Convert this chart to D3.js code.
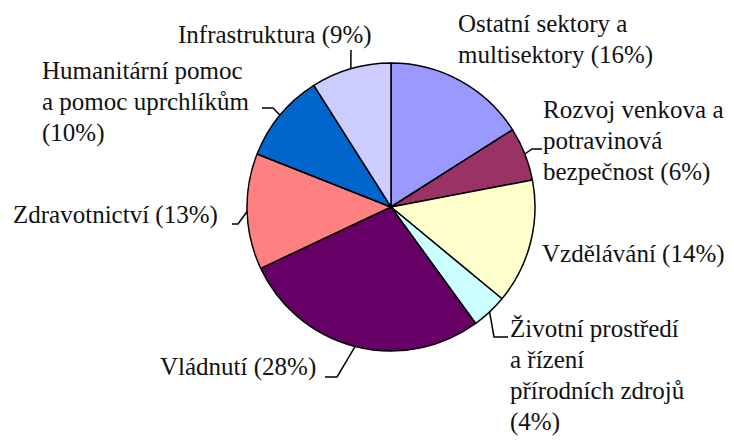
<!DOCTYPE html>
<html>
<head>
<meta charset="utf-8">
<script src="https://cdn.jsdelivr.net/npm/d3@7"></script>
<style>
  body { margin: 0; background: #fff; }
  #chart { position: relative; width: 734px; height: 442px; }
  svg { display: block; }
  .lbl {
    position: absolute;
    font-family: 'Liberation Serif', 'Times New Roman', serif;
    font-size: 25px;
    line-height: 31px;
    white-space: pre;
    color: #111;
  }
</style>
</head>
<body>
<div id="chart"></div>
<script>
// data --------------------------------------------------------------------------------------
const sectors = [
  'Ostatní sektory a multisektory',
  'Rozvoj venkova a potravinová bezpečnost',
  'Vzdělávání',
  'Životní prostředí a řízení přírodních zdrojů',
  'Vládnutí',
  'Zdravotnictví',
  'Humanitární pomoc a pomoc uprchlíkům',
  'Infrastruktura'
];
const shares = [16, 6, 14, 4, 28, 13, 10, 9];
const labelLines = [
  ['Ostatní sektory a', 'multisektory (16%)'],
  ['Rozvoj venkova a', 'potravinová', 'bezpečnost (6%)'],
  ['Vzdělávání (14%)'],
  ['Životní prostředí', 'a řízení', 'přírodních zdrojů', '(4%)'],
  ['Vládnutí (28%)'],
  ['Zdravotnictví (13%)'],
  ['Humanitární pomoc', 'a pomoc uprchlíkům', '(10%)'],
  ['Infrastruktura (9%)']
];
const colors = ['#9999ff', '#993366', '#ffffcc', '#ccffff', '#660066', '#ff8080', '#0066cc', '#ccccff'];

// layout (label left / first baseline, leader elbow / end) ----------------------------------
const labelPos = [
  {x: 458, y: 32},
  {x: 543, y: 118},
  {x: 542, y: 262},
  {x: 510, y: 337},
  {x: 160, y: 375},
  {x: 13, y: 223},
  {x: 42, y: 79},
  {x: 178, y: 43}
];
const leaders = [
  null,
  [[532, 149], [542, 149]],
  null,
  [[494, 337], [508, 337]],
  [[337, 377], [325, 377]],
  [[238, 224], [232, 224]],
  [[273, 108], [262, 108]],
  [[351, 50]]
];

// svg ---------------------------------------------------------------------------------------
const width = 734;
const height = 442;
const cx = 391;
const cy = 207;
const radius = 144;
const baselineOffset = 24; // first baseline from top of a 31px line box at 25px

const chart = d3.select('#chart');
const svg = chart.append('svg')
  .attr('width', width)
  .attr('height', height)
  .attr('viewBox', '0 0 ' + width + ' ' + height);

const pie = d3.pie().sort(null).value(d => d)(shares);
const arc = d3.arc().innerRadius(0).outerRadius(radius);

// slices ------------------------------------------------------------------------------------
svg.append('g')
  .attr('transform', 'translate(' + cx + ',' + cy + ')')
  .selectAll('path')
  .data(pie)
  .enter()
  .append('path')
  .attr('d', arc)
  .attr('fill', (d, i) => colors[i])
  .attr('stroke', '#000')
  .attr('stroke-width', 1.5)
  .attr('stroke-linejoin', 'round');

// leader lines ------------------------------------------------------------------------------
const edgePoint = d => {
  const a = (d.startAngle + d.endAngle) / 2;
  return [cx + radius * Math.sin(a), cy - radius * Math.cos(a)];
};
svg.append('g')
  .selectAll('path')
  .data(pie.filter((d, i) => leaders[i]))
  .enter()
  .append('path')
  .attr('d', d => d3.line()([edgePoint(d)].concat(leaders[d.index])))
  .attr('fill', 'none')
  .attr('stroke', '#000')
  .attr('stroke-width', 1.5);

// labels (html, serif) ----------------------------------------------------------------------
chart.selectAll('div.lbl')
  .data(sectors)
  .enter()
  .append('div')
  .attr('class', 'lbl')
  .attr('title', d => d)
  .style('left', (d, i) => labelPos[i].x + 'px')
  .style('top', (d, i) => (labelPos[i].y - baselineOffset) + 'px')
  .text((d, i) => labelLines[i].join('\n'));
</script>
</body>
</html>
